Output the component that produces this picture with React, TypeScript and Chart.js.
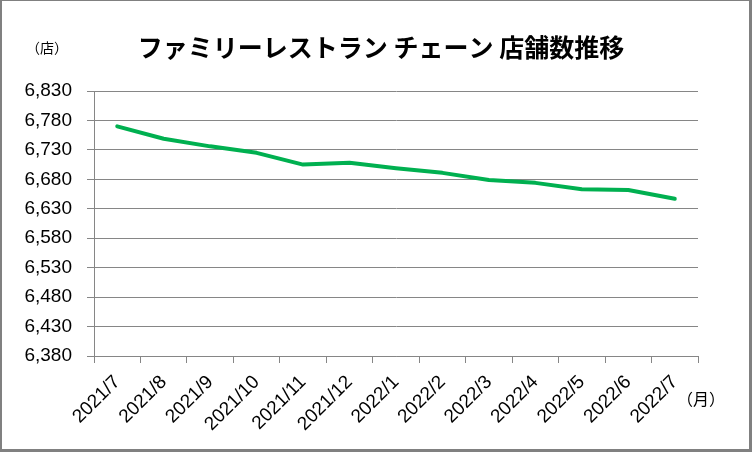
import React, { useEffect, useRef } from 'react';
import { Chart, registerables } from 'chart.js';

Chart.register(...registerables);

// months on the x axis
const months = [
   '2021/7', '2021/8', '2021/9', '2021/10', '2021/11', '2021/12',
   '2022/1', '2022/2', '2022/3', '2022/4', '2022/5', '2022/6', '2022/7',
];

// store counts
const storeCounts = [6770, 6749, 6736, 6725, 6705, 6708, 6699, 6691, 6679, 6674, 6663, 6662, 6647];

const yTicks = [6380, 6430, 6480, 6530, 6580, 6630, 6680, 6730, 6780, 6830];

const titleText = 'ファミリーレストラン チェーン 店舗数推移';
const yUnit = '（店）';
const xUnit = '（月）';

const gridGray = '#868686';

const App = () => {
   const canvasRef = useRef<HTMLCanvasElement | null>(null);

   useEffect(() => {
      if (!canvasRef.current) return;

      // draws the frame, title and unit labels
      const decor = {
         id: 'decor',
         beforeDraw(chart: any) {
            const ctx = chart.ctx;
            ctx.save();
            ctx.fillStyle = '#ffffff';
            ctx.fillRect(0, 0, chart.width, chart.height);
            ctx.restore();
         },
         afterDraw(chart: any) {
            const ctx = chart.ctx;
            ctx.save();
            ctx.fillStyle = '#000000';
            ctx.textAlign = 'center';
            ctx.textBaseline = 'middle';
            ctx.font = 'bold 25px "Noto Sans CJK JP"';
            ctx.fillText(titleText, 381, 47);
            ctx.font = '14px "Noto Sans CJK JP"';
            ctx.fillText(yUnit, 47, 48);
            ctx.font = '16px "Noto Sans CJK JP"';
            ctx.fillText(xUnit, 701, 399);

            ctx.fillStyle = '#808080';
            ctx.fillRect(0, 0, 2, chart.height);
            ctx.fillRect(chart.width - 3, 0, 3, chart.height);
            ctx.fillRect(0, chart.height - 3, chart.width, 3);
            ctx.fillRect(0, 0, chart.width, 1);
            ctx.restore();
         },
      };

      const chart = new Chart(canvasRef.current, {
         type: 'line',
         data: {
            labels: months,
            datasets: [
               {
                  label: '店舗数',
                  data: storeCounts,
                  borderColor: '#00B050',
                  borderWidth: 4,
                  borderCapStyle: 'round',
                  borderJoinStyle: 'round',
                  pointRadius: 0,
                  tension: 0,
                  fill: false,
               },
            ],
         },
         options: {
            responsive: false,
            animation: false,
            layout: {
               padding: { top: 91, left: 0, right: 54, bottom: 0 },
            },
            plugins: {
               legend: { display: false },
               title: { display: false },
               tooltip: { enabled: false },
            },
            scales: {
               x: {
                  offset: true,
                  grid: {
                     offset: true,
                     drawOnChartArea: false,
                     drawTicks: true,
                     tickLength: 7,
                     color: gridGray,
                  },
                  border: { display: true, color: gridGray },
                  ticks: {
                     autoSkip: false,
                     minRotation: 45,
                     maxRotation: 45,
                     padding: 8,
                     color: '#000000',
                     font: { family: '"Liberation Sans", Arial', size: 19 },
                  },
                  afterFit: (scale: any) => {
                     scale.height = 96;
                  },
               },
               y: {
                  min: 6380,
                  max: 6830,
                  grid: {
                     color: gridGray,
                     tickLength: 7,
                  },
                  border: { display: true, color: gridGray },
                  afterBuildTicks: (scale: any) => {
                     scale.ticks = yTicks.map((v) => ({ value: v }));
                  },
                  ticks: {
                     padding: 15,
                     color: '#000000',
                     font: { family: '"Liberation Sans", Arial', size: 19 },
                     callback: (value: any) => Number(value).toLocaleString('en-US'),
                  },
                  afterFit: (scale: any) => {
                     scale.width = 94;
                  },
               },
            },
         },
         plugins: [decor],
      });

      return () => {
         chart.destroy();
      };
   }, []);

   return (
      <div style={{ position: 'fixed', left: 0, top: 0, width: 752, height: 452 }}>
         <canvas ref={canvasRef} width={752} height={452} />
      </div>
   );
};

export default App;
